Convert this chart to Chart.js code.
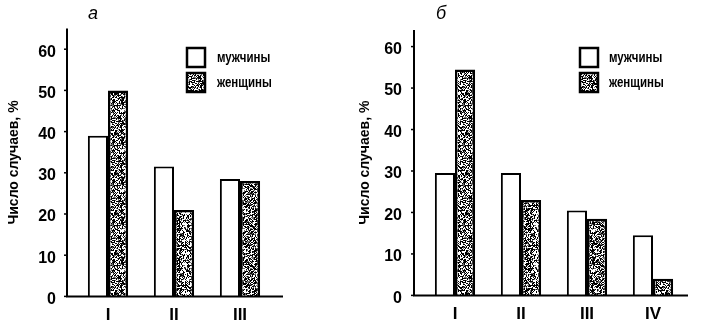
<!DOCTYPE html>
<html>
<head>
<meta charset="utf-8">
<script src="https://cdn.jsdelivr.net/npm/chart.js@4"></script>
<style>
  body { margin: 0; background: #fff; width: 702px; height: 325px; overflow: hidden; position: relative; }
  .painel { position: absolute; top: 0; width: 351px; height: 325px; }
</style>
</head>
<body>
<div class="painel" style="left:0"><canvas id="graficoA"></canvas></div>
<div class="painel" style="left:351px"><canvas id="graficoB"></canvas></div>
<script>
// данные (а)
const labelsA = ["I", "II", "III"];
const menA = [39, 31.5, 28.5];
const womenA = [50, 21, 28];
// данные (б)
const labelsB = ["I", "II", "III", "IV"];
const menB = [29.5, 29.5, 20.5, 14.5];
const womenB = [54.5, 23, 18.5, 4];

const seriesNames = ["мужчины", "женщины"];
const yTicks = [0, 10, 20, 30, 40, 50, 60];
const yTitle = "Число случаев, %";

const FONT = "'Liberation Sans Narrow', 'Liberation Sans', Arial, sans-serif";
Chart.defaults.font.family = FONT;
Chart.defaults.color = "#000";

// точечная штриховка для столбиков "женщины"
function stipple() {
  const c = document.createElement("canvas");
  c.width = 40; c.height = 40;
  const g = c.getContext("2d");
  const img = g.createImageData(40, 40);
  for (let y = 0; y < 40; y++) {
    for (let x = 0; x < 40; x++) {
      const h = Math.abs(Math.sin(x * 12.9898 + y * 78.233) * 43758.5453) % 1;
      const v = h < 0.45 ? 0 : h < 0.58 ? 110 : 255;
      const i = (y * 40 + x) * 4;
      img.data[i] = img.data[i + 1] = img.data[i + 2] = v;
      img.data[i + 3] = 255;
    }
  }
  g.putImageData(img, 0, 0);
  return g.createPattern(c, "repeat");
}
const pattern = stipple();

// оси, буква, легенда
const frame = {
  id: "frame",
  afterDraw(chart, args, opts) {
    const { ctx, chartArea, scales } = chart;
    const y = scales.y;
    const x0 = chartArea.left - 8;
    const yb = y.getPixelForValue(0);
    ctx.save();
    ctx.strokeStyle = "#000";
    ctx.lineWidth = 2;
    ctx.beginPath();
    ctx.moveTo(x0, chartArea.top);
    ctx.lineTo(x0, yb);
    ctx.lineTo(chartArea.right + opts.tail, yb);
    ctx.stroke();
    ctx.lineWidth = 1.5;
    y.ticks.forEach(t => {
      const p = y.getPixelForValue(t.value);
      ctx.beginPath();
      ctx.moveTo(x0 - 3, p);
      ctx.lineTo(x0, p);
      ctx.stroke();
    });

    ctx.fillStyle = "#000";
    ctx.textBaseline = "middle";
    ctx.font = "italic 18px 'Liberation Sans', Arial";
    ctx.fillText(opts.letter, opts.letterX, 14);

    chart.data.datasets.forEach((ds, i) => {
      const bx = opts.legendX, by = 48 + i * 25;
      ctx.fillStyle = ds.backgroundColor;
      ctx.fillRect(bx, by, 18, 19);
      ctx.lineWidth = 2.5;
      ctx.strokeRect(bx, by, 18, 19);
      ctx.fillStyle = "#000";
      ctx.font = "bold 14px " + FONT;
      ctx.save();
      ctx.translate(opts.textX, by + 10);
      ctx.scale(0.82, 1);
      ctx.fillText(ds.label, 0, 0);
      ctx.restore();
    });
    ctx.restore();
  },
};

function makeChart(el, labels, men, women, o) {
  return new Chart(el, {
    type: "bar",
    data: {
      labels: labels,
      datasets: [
        {
          label: seriesNames[0],
          data: men,
          backgroundColor: "#fff",
          borderColor: "#000",
          borderWidth: 2,
        },
        {
          label: seriesNames[1],
          data: women,
          backgroundColor: pattern,
          borderColor: "#000",
          borderWidth: 2.5,
        },
      ],
    },
    options: {
      responsive: true,
      maintainAspectRatio: false,
      animation: false,
      categoryPercentage: 0.61,
      barPercentage: 1,
      layout: { padding: { left: 0, right: o.padRight, top: o.padTop, bottom: 0 } },
      scales: {
        x: {
          grid: { display: false, drawTicks: false },
          border: { display: false },
          ticks: { font: { size: 17, weight: "bold" }, padding: 9 },
          afterFit: s => { s.height = 27; },
        },
        y: {
          min: 0,
          max: o.max,
          grid: { display: false, drawTicks: false },
          border: { display: false },
          ticks: { font: { size: 16, weight: "bold" }, padding: o.tickPad, labelOffset: 3 },
          afterBuildTicks: s => { s.ticks = yTicks.map(v => ({ value: v })); },
          afterFit: s => { s.width = o.yWidth; },
          title: {
            display: true,
            text: yTitle,
            font: { size: 14, weight: "bold" },
            padding: { top: 6, bottom: 0 },
          },
        },
      },
      plugins: {
        legend: { display: false },
        tooltip: { enabled: false },
        frame: o.frame,
      },
    },
    plugins: [frame],
  });
}

makeChart(document.getElementById("graficoA"), labelsA, menA, womenA, {
  padRight: 78, padTop: 26, max: 65, yWidth: 75, tickPad: 19,
  frame: { tail: 10, letter: "а", letterX: 88, legendX: 187, textX: 217 },
});

makeChart(document.getElementById("graficoB"), labelsB, menB, womenB, {
  padRight: 16, padTop: 30, max: 64, yWidth: 71, tickPad: 20,
  frame: { tail: 2, letter: "б", letterX: 85, legendX: 229, textX: 258 },
});
</script>
</body>
</html>
